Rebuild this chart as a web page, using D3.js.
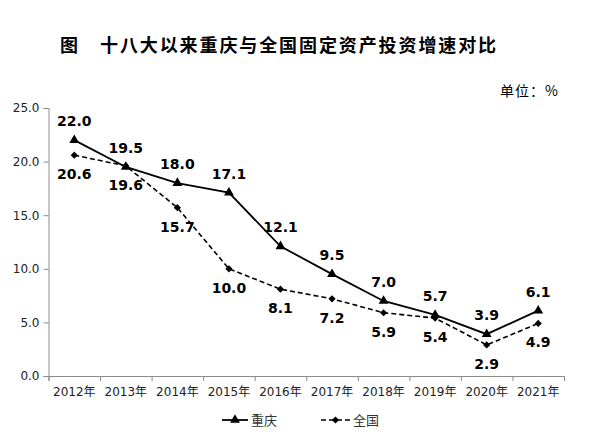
<!DOCTYPE html>
<html>
<head>
<meta charset="utf-8">
<script src="https://cdn.jsdelivr.net/npm/d3@7"></script>
<style>
  body { margin: 0; background: #fff; }
  .axis path, .axis line { stroke: #8c8c8c; }
  .axis text { fill: #222; font-family: "DejaVu Sans", "Noto Sans CJK SC", sans-serif; font-size: 12px; }
  .valueText { font-family: "DejaVu Sans", sans-serif; font-weight: bold; font-size: 14px; fill: #000; }
</style>
</head>
<body>
<div id="containerChart"></div>
<script>
// data
var years = ["2012年", "2013年", "2014年", "2015年", "2016年", "2017年", "2018年", "2019年", "2020年", "2021年"];
var chongqing = [22.0, 19.5, 18.0, 17.1, 12.1, 9.5, 7.0, 5.7, 3.9, 6.1];
var national = [20.6, 19.6, 15.7, 10.0, 8.1, 7.2, 5.9, 5.4, 2.9, 4.9];
var yTicks = [0, 5, 10, 15, 20, 25];
var seriesNames = ["重庆", "全国"];

// characteristics for svg element
var width = 592;
var height = 440;
var leftMargin = 48.5;
var rightEdge = 564;
var topEdge = 108;
var bottomEdge = 376;

var svg = d3.select("#containerChart")
  .append("svg")
  .attr("width", width)
  .attr("height", height);

// scales
var scaleX = d3.scaleBand()
  .domain(years)
  .range([leftMargin, rightEdge]);
var scaleEdge = d3.scaleLinear()
  .domain([0, years.length])
  .range([leftMargin, rightEdge]);
var scaleY = d3.scaleLinear()
  .domain([0, 25])
  .range([bottomEdge, topEdge]);

// title
svg.append("text")
  .attr("x", 60)
  .attr("y", 52)
  .style("font-family", "'Noto Sans CJK SC', sans-serif")
  .style("font-weight", "bold")
  .style("font-size", "18px")
  .text("图");
svg.append("text")
  .attr("x", 100)
  .attr("y", 52)
  .style("font-family", "'Noto Sans CJK SC', sans-serif")
  .style("font-weight", "bold")
  .style("font-size", "18px")
  .style("letter-spacing", "1.9px")
  .text("十八大以来重庆与全国固定资产投资增速对比");

// unit
svg.append("text")
  .attr("x", 500)
  .attr("y", 96)
  .style("font-family", "'Noto Sans CJK SC', sans-serif")
  .style("font-size", "14px")
  .style("letter-spacing", "1px")
  .text("单位：%");

// y axis
var yAxis = d3.axisLeft(scaleY)
  .tickValues(yTicks)
  .tickFormat(d3.format(".1f"))
  .tickSizeOuter(0)
  .tickSize(5)
  .tickPadding(4);
svg.append("g")
  .attr("class", "axis")
  .attr("transform", "translate(" + leftMargin + ",0)")
  .call(yAxis);

// x axis: ticks on band edges, labels at centers
var xEdgeAxis = d3.axisBottom(scaleEdge)
  .tickValues(d3.range(years.length + 1))
  .tickFormat("")
  .tickSizeOuter(0)
  .tickSize(5);
svg.append("g")
  .attr("class", "axis")
  .attr("transform", "translate(0," + bottomEdge + ")")
  .call(xEdgeAxis);
var xAxis = d3.axisBottom(scaleX)
  .tickSize(0)
  .tickPadding(11);
var xg = svg.append("g")
  .attr("class", "axis")
  .attr("transform", "translate(0," + bottomEdge + ")")
  .call(xAxis);
xg.select(".domain").remove();

function cx(i) { return scaleX(years[i]) + scaleX.bandwidth() / 2; }

var line = d3.line()
  .x(function(d, i) { return cx(i); })
  .y(function(d) { return scaleY(d); });

// national (dashed) line
svg.append("path")
  .datum(national)
  .attr("d", line)
  .attr("fill", "none")
  .attr("stroke", "#000")
  .attr("stroke-width", 1.6)
  .attr("stroke-dasharray", "5,3");

// chongqing line
svg.append("path")
  .datum(chongqing)
  .attr("d", line)
  .attr("fill", "none")
  .attr("stroke", "#000")
  .attr("stroke-width", 1.8);

var triangle = d3.symbol().type(d3.symbolTriangle).size(42);
// square turned 45 degrees gives an even diamond
var diamond = d3.symbol().type(d3.symbolSquare).size(26);

svg.selectAll(".tri")
  .data(chongqing)
  .enter()
  .append("path")
  .attr("class", "tri")
  .attr("d", triangle)
  .attr("transform", function(d, i) { return "translate(" + cx(i) + "," + scaleY(d) + ")"; })
  .attr("fill", "#000");

svg.selectAll(".dia")
  .data(national)
  .enter()
  .append("path")
  .attr("class", "dia")
  .attr("d", diamond)
  .attr("transform", function(d, i) { return "translate(" + cx(i) + "," + scaleY(d) + ") rotate(45)"; })
  .attr("fill", "#000");

// value labels
svg.selectAll(".labelCq")
  .data(chongqing)
  .enter()
  .append("text")
  .attr("class", "valueText")
  .attr("x", function(d, i) { return cx(i); })
  .attr("y", function(d) { return scaleY(d) - 14; })
  .style("text-anchor", "middle")
  .text(function(d) { return d.toFixed(1); });

svg.selectAll(".labelNat")
  .data(national)
  .enter()
  .append("text")
  .attr("class", "valueText")
  .attr("x", function(d, i) { return cx(i); })
  .attr("y", function(d) { return scaleY(d) + 24; })
  .style("text-anchor", "middle")
  .text(function(d) { return d.toFixed(1); });

// legend
var legendY = 420;
svg.append("line")
  .attr("x1", 222).attr("x2", 248)
  .attr("y1", legendY).attr("y2", legendY)
  .attr("stroke", "#000").attr("stroke-width", 1.8);
svg.append("path")
  .attr("d", triangle)
  .attr("transform", "translate(235," + legendY + ")");
svg.append("text")
  .attr("x", 251)
  .attr("y", legendY + 4.5)
  .style("font-family", "'Noto Sans CJK SC', sans-serif")
  .style("font-size", "13px")
  .style("fill", "#333")
  .text(seriesNames[0]);

svg.append("line")
  .attr("x1", 321).attr("x2", 350)
  .attr("y1", legendY).attr("y2", legendY)
  .attr("stroke", "#000").attr("stroke-width", 1.6)
  .attr("stroke-dasharray", "5,3");
svg.append("path")
  .attr("d", diamond)
  .attr("transform", "translate(335.5," + legendY + ") rotate(45)");
svg.append("text")
  .attr("x", 353)
  .attr("y", legendY + 4.5)
  .style("font-family", "'Noto Sans CJK SC', sans-serif")
  .style("font-size", "13px")
  .style("fill", "#333")
  .text(seriesNames[1]);
</script>
</body>
</html>
